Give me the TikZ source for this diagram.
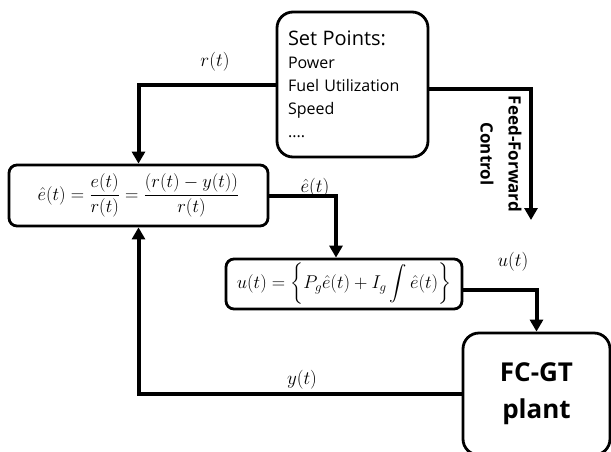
\RequirePackage{fix-cm}
\documentclass[tikz,border=0pt]{standalone}
\usepackage{amsmath}
\usepackage{fontspec}
\setmainfont{Open Sans}
\usetikzlibrary{arrows.meta, positioning}

\begin{document}
\begin{tikzpicture}[x=1pt, y=-1pt, >={Triangle[length=12pt,width=13pt]},
    box/.style={draw, rectangle, rounded corners=8pt, line width=2.8pt, inner sep=0pt},
    flow/.style={->, line width=4pt},
    eqn/.style={font=\fontsize{18.5}{22}\selectfont},
    sig/.style={font=\fontsize{19}{22}\selectfont}]
    \useasboundingbox (0,0) rectangle (611,451);
    % blocks
    \node[box, rounded corners=16pt, minimum width=151pt, minimum height=145pt,
        text width=129pt, align=left, font=\fontsize{16}{23}\selectfont] (setp) at (352.5,84.5)
        {{\fontsize{20}{24}\selectfont Set Points:}\\Power\\Fuel Utilization\\Speed\\....};
    \node[box, minimum width=259pt, minimum height=61pt, eqn] (err) at (138.5,195.5)
        {$\hat{e}(t) = \dfrac{e(t)}{r(t)} = \dfrac{(r(t)-y(t))}{r(t)}$};
    \node[box, minimum width=236pt, minimum height=50pt, eqn] (ctrl) at (344,284)
        {$\displaystyle u(t) = \left\{P_g\hat{e}(t) + I_g\int \hat{e}(t)\right\}$};
    \node[box, rounded corners=16pt, minimum width=147pt, minimum height=122pt, align=center,
        font=\fontsize{26}{37}\selectfont\bfseries] (plant) at (536.5,394) {FC-GT\\plant};
    \coordinate (ff) at (531,220);
    % connectors
    \draw[flow] (setp.west) -| (err.north);
    \draw[flow] (err.east) -| ([xshift=-8pt]ctrl.north);
    \draw[flow] ([yshift=-6pt]ctrl.east) -| (plant.north);
    \draw[flow] (plant.west) -| (err.south);
    \draw[flow] ([yshift=-4pt]setp.east) -| (ff);
    % labels
    \node[sig] (rlab) at (215,62) {$r(t)$};
    \node[sig] (elab) at (315,188) {$\hat{e}(t)$};
    \node[sig] (ulab) at (513,262) {$u(t)$};
    \node[sig] (ylab) at (302,380) {$y(t)$};
    \node[rotate=-90, align=center, font=\fontsize{17}{28}\selectfont\bfseries] (fflab) at (501,154)
        {Feed-Forward\\Control};
\end{tikzpicture}
\end{document}
